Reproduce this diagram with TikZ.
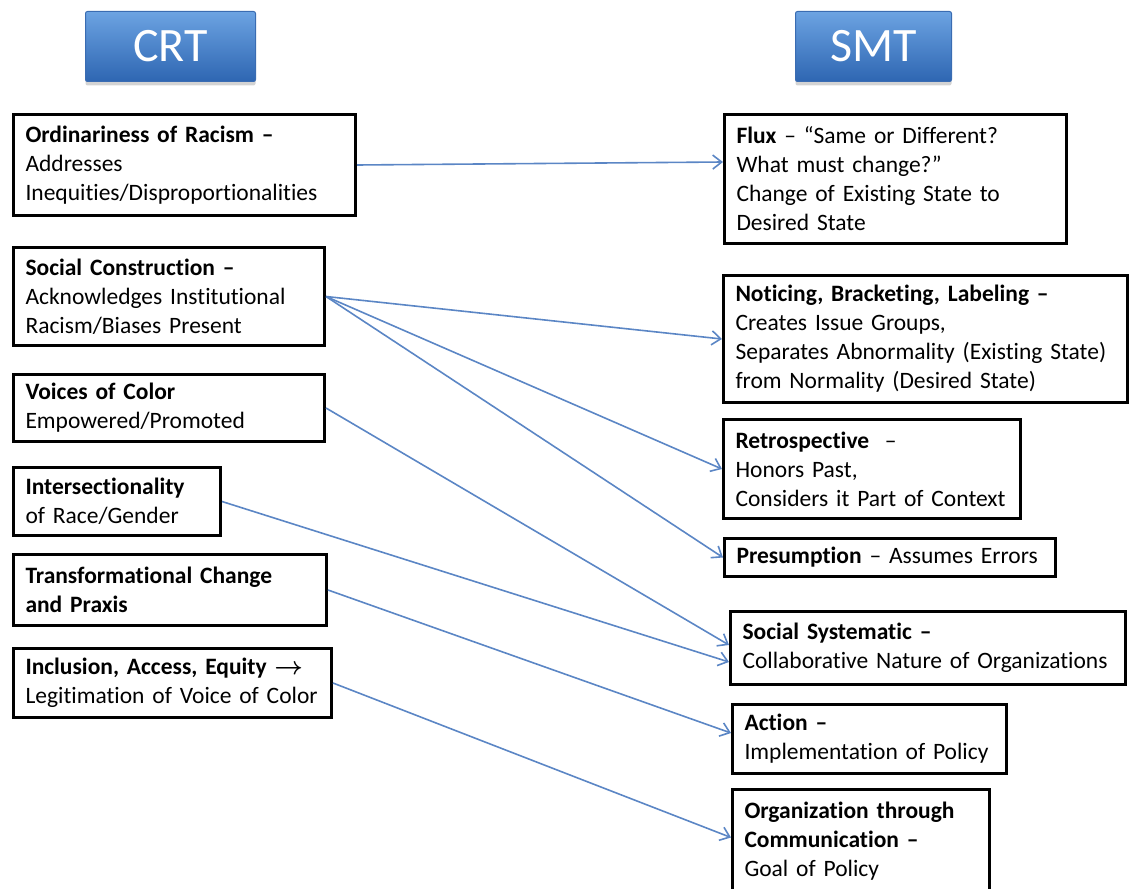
\documentclass[tikz,border=0pt]{standalone}
\usepackage{fontspec}
\setmainfont{Carlito}[Ligatures=NoCommon]
\usetikzlibrary{arrows.meta,shadows}
\definecolor{linkblue}{RGB}{91,134,197}
\definecolor{hdrtop}{RGB}{108,163,226}
\definecolor{hdrbot}{RGB}{46,102,178}
\definecolor{hdredge}{RGB}{58,108,178}

\begin{document}
\begin{tikzpicture}[x=1pt, y=-1pt,
    box/.style = {draw, line width=3pt, anchor=north west, align=left, inner xsep=12pt, inner ysep=4pt, font=\fontsize{23.5}{29}\selectfont},
    hdr/.style = {anchor=north west, draw=hdredge, line width=1pt, rounded corners=2pt, top color=hdrtop, bottom color=hdrbot, text=white, font=\fontsize{48}{52}\selectfont, drop shadow={opacity=0.35, shadow xshift=0pt, shadow yshift=-4pt}},
    link/.style = {draw=linkblue, line width=1.6pt, -{Straight Barb[length=9pt,width=14pt]}}]
    \useasboundingbox (0,0) rectangle (1131,888);
    % headers
    \node[hdr, minimum width=170pt, minimum height=70pt] (crt) at (85,11) {CRT};
    \node[hdr, minimum width=156pt, minimum height=70pt] (smt) at (795,11) {SMT};
    % CRT column
    \node[box, text width=318pt, minimum height=101pt] (ord) at (12,113) {\textbf{Ordinariness of Racism –}\\Addresses\\Inequities/Disproportionalities};
    \node[box, text width=287pt, minimum height=98pt] (soc) at (12,246) {\textbf{Social Construction –}\\Acknowledges Institutional\\Racism/Biases Present};
    \node[box, text width=287pt, minimum height=67pt] (voc) at (12,373) {\textbf{Voices of Color}\\Empowered/Promoted};
    \node[box, text width=183pt, minimum height=68pt] (int) at (12,466) {\textbf{Intersectionality}\\of Race/Gender};
    \node[box, text width=289pt, minimum height=71pt] (trf) at (12,553) {\textbf{Transformational Change}\\\textbf{and Praxis}};
    \node[box, text width=294pt, minimum height=69pt] (inc) at (12,647) {\textbf{Inclusion, Access, Equity {\boldmath$\rightarrow$}}\\Legitimation of Voice of Color};
    % SMT column
    \node[box, text width=318pt, minimum height=129pt] (flux) at (723,113) {\textbf{Flux} – “Same or Different?\\What must change?”\\Change of Existing State to\\Desired State};
    \node[box, text width=380pt, minimum height=127pt] (note) at (722,274) {\textbf{Noticing, Bracketing, Labeling –}\\Creates Issue Groups,\\Separates Abnormality (Existing State)\\from Normality (Desired State)};
    \node[box, text width=273pt, minimum height=99pt] (retro) at (722,418) {\textbf{Retrospective} \ –\\Honors Past,\\Considers it Part of Context};
    \node[box, text width=307pt, minimum height=38pt] (pres) at (723,537) {\textbf{Presumption} – Assumes Errors};
    \node[box, text width=371pt, minimum height=73pt] (sys) at (729,610) {\textbf{Social Systematic –}\\Collaborative Nature of Organizations};
    \node[box, text width=250pt, minimum height=69pt] (act) at (731,703) {\textbf{Action –}\\Implementation of Policy};
    \node[box, text width=233pt, minimum height=104pt] (org) at (731,788) {\textbf{Organization through}\\\textbf{Communication –}\\Goal of Policy};
    % links
    \draw[link] (ord.east) -- ([yshift=17pt]flux.west);
    \draw[link] (soc.east) -- (note.west);
    \draw[link] (soc.east) -- (retro.west);
    \draw[link] (soc.east) -- (pres.west);
    \draw[link] (voc.east) -- ([yshift=3pt]sys.west);
    \draw[link] (int.east) -- ([yshift=-14pt]sys.west);
    \draw[link] (trf.east) -- ([yshift=6pt]act.west);
    \draw[link] (inc.east) -- ([yshift=4pt]org.west);
\end{tikzpicture}
\end{document}
